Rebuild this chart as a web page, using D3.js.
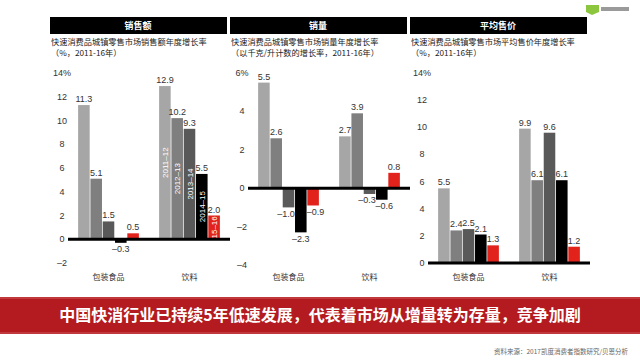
<!DOCTYPE html>
<html>
<head>
<meta charset="utf-8">
<script src="https://cdn.jsdelivr.net/npm/d3@7"></script>
<style>
  body { margin: 0; background: #fff; }
  svg { display: block; }
</style>
</head>
<body>
<div id="chart"></div>
<script>
// data
const categories = ["包装食品", "饮料"];
const years = ["2011–12", "2012–13", "2013–14", "2014–15", "15–16"];
const colors = ["#a6a6a6", "#7f7f7f", "#595959", "#000000", "#e2231b"];

const panelTitles = ["销售额", "销量", "平均售价"];
const subtitles = [
  ["快速消费品城镇零售市场销售额年度增长率", "（%，2011-16年）"],
  ["快速消费品城镇零售市场销量年度增长率", "（以千克/升计数的增长率，2011-16年）"],
  ["快速消费品城镇零售市场平均售价年度增长率", "（%，2011-16年）"]
];

// values per category, one per year
const salesValue = [[11.3, 5.1, 1.5, -0.3, 0.5], [12.9, 10.2, 9.3, 5.5, 2.0]];
const volume     = [[5.5, 2.6, -1.0, -2.3, -0.9], [2.7, 3.9, -0.3, -0.6, 0.8]];
const avgPrice   = [[5.5, 2.4, 2.5, 2.1, 1.3], [9.9, 6.1, 9.6, 6.1, 1.2]];

const yDomains = [[-2, 14], [-4, 6], [0, 14]];
const yTicks = [
  [-2, 0, 2, 4, 6, 8, 10, 12, 14],
  [-4, -2, 0, 2, 4, 6],
  [0, 2, 4, 6, 8, 10, 12, 14]
];
const panelData = [salesValue, volume, avgPrice];

const headline = "中国快消行业已持续5年低速发展，代表着市场从增量转为存量，竞争加剧";
const source = "资料来源：2017凯度消费者指数研究/贝恩分析";

const W = 640, H = 360;
const cjk = "'Noto Sans CJK SC', 'Noto Sans', sans-serif";
const num = "'Liberation Sans Narrow', 'Liberation Sans', Lato, sans-serif";

const svg = d3.select("#chart").append("svg")
  .attr("width", W).attr("height", H);

// logo top right
svg.append("path")
  .attr("d", "M586,5 L599,5 L599,12 L592,15 L586,12 Z")
  .attr("fill", "#8cc63f");
svg.append("rect").attr("x", 601).attr("y", 7).attr("width", 28).attr("height", 4)
  .attr("fill", "#9a9a9a");

const fmt = v => (v < 0 ? "–" + Math.abs(v).toFixed(1) : v.toFixed(1));

panelData.forEach((data, p) => {
  const ox = 50 + 180 * p;
  const g = svg.append("g");

  // header bar
  g.append("rect")
    .attr("x", ox).attr("y", 17).attr("width", 177).attr("height", 17)
    .attr("fill", "#000");
  g.append("text")
    .attr("x", ox + 88).attr("y", 29)
    .attr("text-anchor", "middle")
    .attr("fill", "#fff")
    .style("font-family", cjk).style("font-size", "9px").style("font-weight", 700)
    .text(panelTitles[p]);

  subtitles[p].forEach((s, i) => {
    g.append("text")
      .attr("x", ox + 1).attr("y", 44.5 + i * 11.5)
      .attr("fill", "#222")
      .style("font-family", cjk).style("font-size", "8.2px")
      .text(s);
  });

  const x0 = d3.scaleBand()
    .domain(categories)
    .range([ox + 18, ox + 180])
    .paddingInner(0.25)
    .paddingOuter(0.125);
  const x1 = d3.scaleBand()
    .domain(years)
    .range([0, x0.bandwidth()])
    .paddingInner(0.06);
  const y = d3.scaleLinear()
    .domain(yDomains[p])
    .range([p === 1 ? 265 : 263, 73]);

  // y tick labels (no axis line)
  const top = yDomains[p][1];
  g.selectAll(".ytick")
    .data(yTicks[p])
    .join("text")
    .attr("x", ox + 12)
    .attr("y", d => y(d) + 3)
    .attr("text-anchor", "middle")
    .attr("fill", "#333")
    .style("font-family", num).style("font-size", "9px")
    .text(d => d === top ? d + "%" : (d < 0 ? "–" + Math.abs(d) : d));

  categories.forEach((cat, ci) => {
    const cg = g.append("g").attr("transform", `translate(${x0(cat)},0)`);
    const vals = data[ci].map((v, i, arr) => {
      // nudge neighbouring negative labels apart
      let dx = 0;
      if (v < 0 && i > 0 && arr[i - 1] < 0) dx += 2.5;
      if (v < 0 && i < arr.length - 1 && arr[i + 1] < 0) dx -= 2.5;
      return { v, yr: years[i], c: colors[i], dx };
    });

    cg.selectAll("rect")
      .data(vals)
      .join("rect")
      .attr("x", d => x1(d.yr))
      .attr("y", d => y(Math.max(0, d.v)))
      .attr("width", x1.bandwidth())
      .attr("height", d => Math.abs(y(d.v) - y(0)))
      .attr("fill", d => d.c);

    cg.selectAll(".val")
      .data(vals)
      .join("text")
      .attr("x", d => x1(d.yr) + x1.bandwidth() / 2 + d.dx)
      .attr("y", d => d.v >= 0 ? y(d.v) - 3 : y(d.v) + 9.5)
      .attr("text-anchor", "middle")
      .attr("fill", "#333")
      .style("font-family", num).style("font-size", "9px")
      .text(d => fmt(d.v));

    // year labels inside the drinks bars of the first panel
    if (p === 0 && ci === 1) {
      cg.selectAll(".yr")
        .data(vals)
        .join("text")
        .attr("transform", d => `translate(${x1(d.yr) + x1.bandwidth() / 2 + 3},${y(d.v / 2)}) rotate(-90)`)
        .attr("text-anchor", "middle")
        .attr("fill", "#fff")
        .style("font-family", num).style("font-size", "8px")
        .text(d => d.yr);
    }

    g.append("text")
      .attr("x", x0(cat) + x0.bandwidth() / 2)
      .attr("y", 280)
      .attr("text-anchor", "middle")
      .attr("fill", "#333")
      .style("font-family", cjk).style("font-size", "8px")
      .text(cat);
  });

  // zero line
  g.append("line")
    .attr("x1", ox + 18).attr("x2", ox + 180)
    .attr("y1", y(0)).attr("y2", y(0))
    .attr("stroke", "#000").attr("stroke-width", 3);
});

// bottom banner
svg.append("rect")
  .attr("x", 0).attr("y", 297).attr("width", W).attr("height", 37)
  .attr("fill", "#b31b20");
svg.append("line").attr("x1", 0).attr("x2", W).attr("y1", 298).attr("y2", 298)
  .attr("stroke", "#d0585b").attr("stroke-width", 1);
svg.append("line").attr("x1", 0).attr("x2", W).attr("y1", 333).attr("y2", 333)
  .attr("stroke", "#d0585b").attr("stroke-width", 1);
svg.append("text")
  .attr("x", W / 2).attr("y", 321)
  .attr("text-anchor", "middle")
  .attr("fill", "#fff")
  .style("font-family", cjk).style("font-size", "16px").style("font-weight", 700)
  .text(headline);

svg.append("text")
  .attr("x", 628).attr("y", 354)
  .attr("text-anchor", "end")
  .attr("fill", "#666")
  .style("font-family", cjk).style("font-size", "6.5px")
  .text(source);
</script>
</body>
</html>
